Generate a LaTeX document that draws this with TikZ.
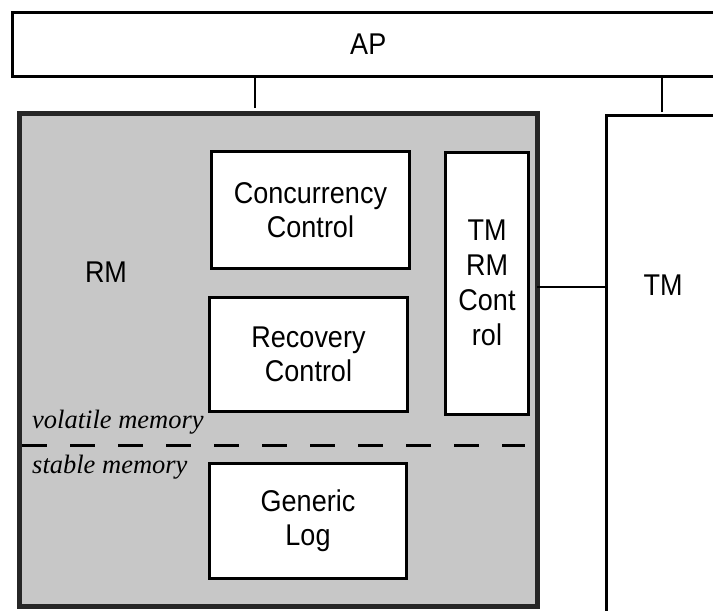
\documentclass[tikz,border=0pt]{standalone}
\usepackage{fontspec}
\setmainfont{Liberation Sans}
\newfontfamily\labelfont[FakeStretch=0.9]{Liberation Sans}
\newfontfamily\memfont{Liberation Serif}
\begin{document}
\begin{tikzpicture}[x=1pt,y=-1pt,
  box/.style={draw=black,line width=3pt,fill=white,align=center,inner sep=0pt,
    font=\labelfont\fontsize{30}{34}\selectfont},
  thinbox/.style={draw=black,line width=2.5pt,fill=white,inner sep=0pt},
  lbl/.style={font=\labelfont\fontsize{30}{34}\selectfont,align=center,inner sep=0pt},
  memlbl/.style={font=\memfont\itshape\fontsize{26.5}{30}\selectfont,anchor=base west,inner sep=0pt},
  conn/.style={draw=black,line width=2.5pt}]
\useasboundingbox (0,0) rectangle (713,611);
% AP
\node[thinbox,anchor=north west,minimum width=712,minimum height=64,
  font=\labelfont\fontsize{30}{34}\selectfont] (ap) at (11,11) {AP};
% TM
\node[thinbox,anchor=north west,minimum width=130,minimum height=520,line width=3pt] (tm) at (604.5,113.5) {};
\node[lbl] (tmlabel) at (663,285) {TM};
% RM
\node[draw=black!85,line width=5pt,fill=black!22,anchor=north west,
  minimum width=518,minimum height=493,inner sep=0pt] (rm) at (16.5,110.5) {};
\node[lbl] (rmlabel) at (106,272) {RM};
% inner boxes
\node[box,minimum width=198,minimum height=117] (cc) at (310.5,210) {Concurrency\\Control};
\node[box,minimum width=198,minimum height=114] (rc) at (308.5,354.5) {Recovery\\Control};
\node[box,minimum width=197,minimum height=115] (gl) at (308,521) {Generic\\Log};
\node[box,minimum width=83,minimum height=262,font=\labelfont\fontsize{30}{35}\selectfont] (tmrm) at (487,283) {TM\\RM\\Cont\\rol};
% memory divider
\coordinate (dashL) at (22,445);
\coordinate (dashR) at (525,445);
\draw[line width=3pt,dash pattern=on 25pt off 23pt] (dashL) -- (dashR);
\node[memlbl] (vol) at (32,428) {volatile memory};
\node[memlbl] (stab) at (32,473) {stable memory};
% connectors
\coordinate (rmtap) at (255,108);
\coordinate (tmtap) at (662,112);
\coordinate (link) at (537,287);
\draw[conn] (rmtap) -- (rmtap |- ap.south);
\draw[conn] (tmtap) -- (tmtap |- ap.south);
\draw[conn] (link) -- (link -| tm.west);
\end{tikzpicture}
\end{document}
